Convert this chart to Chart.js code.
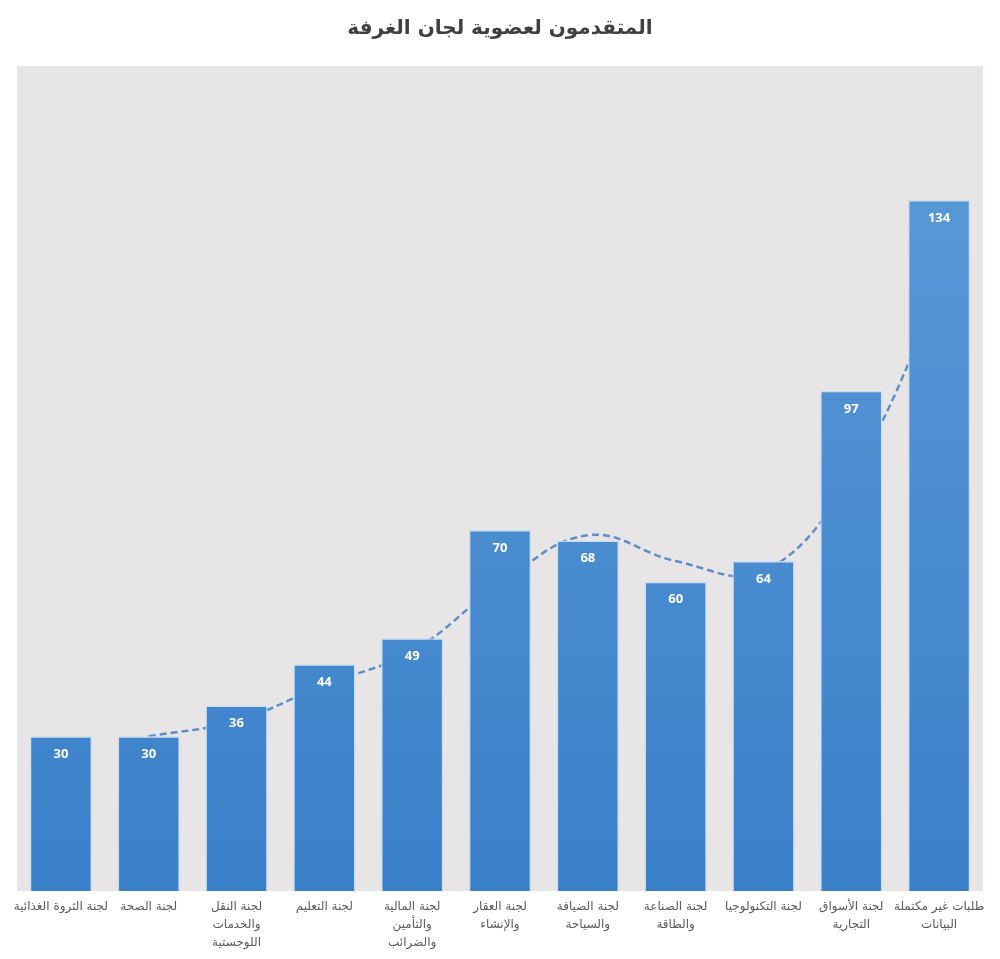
<!DOCTYPE html>
<html>
<head>
<meta charset="utf-8">
<script src="https://cdn.jsdelivr.net/npm/chart.js@4/dist/chart.umd.min.js"></script>
<style>
    body { margin: 0; background: #ffffff; }
    canvas { display: block; }
</style>
</head>
<body>
<canvas id="committees" width="1000" height="959"></canvas>
<script>
// Data
const committeeLabels = [
    'لجنة الثروة الغذائية',
    'لجنة الصحة',
    ['لجنة النقل', 'والخدمات', 'اللوجستية'],
    'لجنة التعليم',
    ['لجنة المالية', 'والتأمين', 'والضرائب'],
    ['لجنة العقار', 'والإنشاء'],
    ['لجنة الضيافة', 'والسياحة'],
    ['لجنة الصناعة', 'والطاقة'],
    'لجنة التكنولوجيا',
    ['لجنة الأسواق', 'التجارية'],
    ['طلبات غير مكتملة', 'البيانات']
];
const applicants = [30, 30, 36, 44, 49, 70, 68, 60, 64, 97, 134];
// dashed trend line
const trendValues = [null, 30, 33, 40, 46.5, 59.5, 69, 64, 62, 80.5, 115.5];

// grey plot background
const plotBackground = {
    id: 'plotBackground',
    beforeDraw(chart) {
        const { ctx, chartArea: a } = chart;
        ctx.save();
        ctx.fillStyle = '#ffffff';
        ctx.fillRect(0, 0, chart.width, chart.height);
        ctx.fillStyle = '#e7e5e5';
        ctx.fillRect(a.left, a.top, a.right - a.left, a.bottom - a.top);
        ctx.restore();
    }
};

// white values inside the bar tops
const barValues = {
    id: 'barValues',
    afterDatasetsDraw(chart) {
        const { ctx } = chart;
        const meta = chart.getDatasetMeta(0);
        ctx.save();
        ctx.fillStyle = '#ffffff';
        ctx.font = 'bold 13px "Open Sans"';
        ctx.textAlign = 'center';
        ctx.textBaseline = 'middle';
        meta.data.forEach((bar, i) => {
            ctx.fillText(applicants[i], bar.x, bar.y + 18);
        });
        ctx.restore();
    }
};

function barGradient(context) {
    const area = context.chart.chartArea;
    if (!area) return '#4a8fd2';
    const g = context.chart.ctx.createLinearGradient(0, area.top, 0, area.bottom);
    g.addColorStop(0, '#5d9cd8');
    g.addColorStop(1, '#3a80c9');
    return g;
}

const ctxCommittees = document.getElementById('committees');
const committeesChart = new Chart(ctxCommittees, {
    data: {
        labels: committeeLabels,
        datasets: [{
            type: 'bar',
            data: applicants,
            backgroundColor: barGradient,
            borderColor: 'rgba(200, 222, 244, 0.9)',
            borderWidth: 1.5,
            categoryPercentage: 1,
            barPercentage: 0.71,
            order: 1
        }, {
            type: 'line',
            data: trendValues,
            borderColor: '#5f8dca',
            borderWidth: 2.5,
            borderDash: [7, 4],
            pointRadius: 0,
            tension: 0.4,
            fill: false,
            order: 2
        }]
    },
    options: {
        responsive: false,
        animation: false,
        layout: {
            padding: { left: 17, right: 17, bottom: 0 }
        },
        plugins: {
            legend: { display: false },
            tooltip: { enabled: false },
            title: {
                display: true,
                text: 'المتقدمون لعضوية لجان الغرفة',
                color: '#404040',
                font: { family: 'DejaVu Sans', size: 20, weight: 'bold' },
                padding: { top: 17, bottom: 25 }
            }
        },
        scales: {
            x: {
                grid: { display: false, drawTicks: false },
                border: { display: false },
                ticks: {
                    color: '#595959',
                    font: { family: 'DejaVu Sans', size: 12, lineHeight: 1.5 },
                    padding: 7,
                    maxRotation: 0,
                    autoSkip: false
                }
            },
            y: {
                display: false,
                min: 0,
                max: 160
            }
        }
    },
    plugins: [plotBackground, barValues]
});
</script>
</body>
</html>
